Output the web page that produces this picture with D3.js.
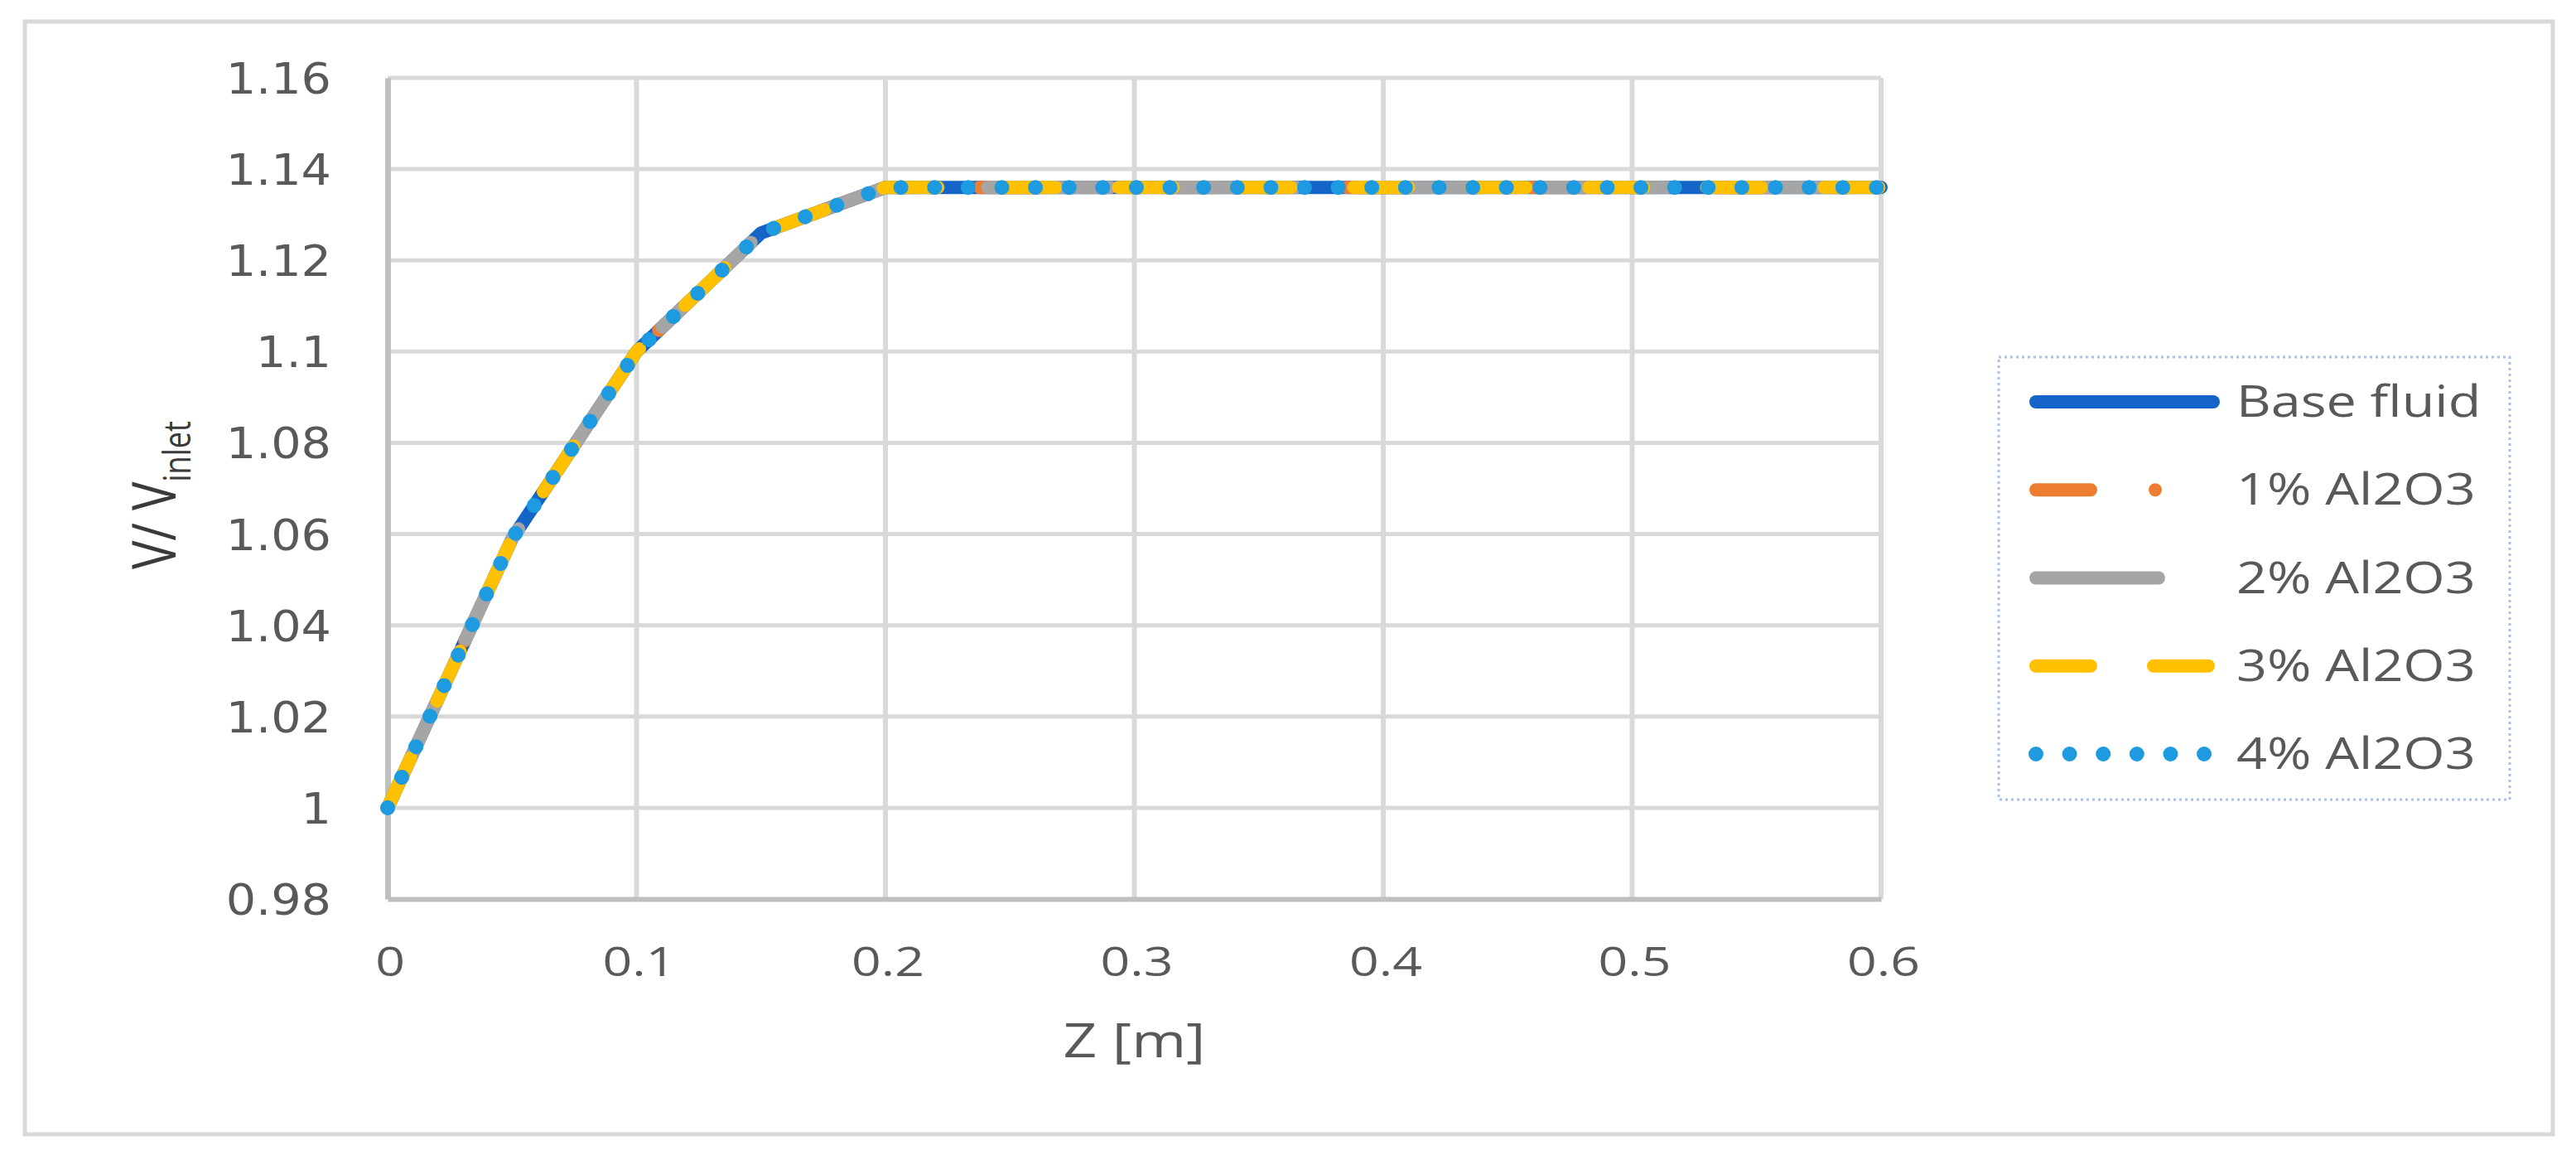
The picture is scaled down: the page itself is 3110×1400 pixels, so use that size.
<!DOCTYPE html>
<html>
<head>
<meta charset="utf-8">
<script src="https://cdn.jsdelivr.net/npm/d3@7"></script>
<style>
  html, body { margin: 0; padding: 0; background: #ffffff; }
  svg { display: block; }
</style>
</head>
<body>
<script>
// ---------------- data ----------------
const zValues   = [0, 0.05, 0.1, 0.15, 0.2, 0.3, 0.4, 0.5, 0.6];
const baseFluid = [1.0, 1.059, 1.100, 1.126, 1.136, 1.136, 1.136, 1.136, 1.136];
const al2o3_1   = [1.0, 1.059, 1.100, 1.126, 1.136, 1.136, 1.136, 1.136, 1.136];
const al2o3_2   = [1.0, 1.059, 1.100, 1.126, 1.136, 1.136, 1.136, 1.136, 1.136];
const al2o3_3   = [1.0, 1.059, 1.100, 1.126, 1.136, 1.136, 1.136, 1.136, 1.136];
const al2o3_4   = [1.0, 1.059, 1.100, 1.126, 1.136, 1.136, 1.136, 1.136, 1.136];
const seriesNames = ["Base fluid", "1% Al2O3", "2% Al2O3", "3% Al2O3", "4% Al2O3"];
const xTicks = [0, 0.1, 0.2, 0.3, 0.4, 0.5, 0.6];
const xTickLabels = ["0", "0.1", "0.2", "0.3", "0.4", "0.5", "0.6"];
const yTicks = [0.98, 1.0, 1.02, 1.04, 1.06, 1.08, 1.1, 1.12, 1.14, 1.16];
const yTickLabels = ["0.98", "1", "1.02", "1.04", "1.06", "1.08", "1.1", "1.12", "1.14", "1.16"];
const xTitle = "Z [m]";

// ---------------- styles ----------------
const W = 3110, H = 1400;
const styles = [
  { color: "#1565c8", dash: null, w: 16 },
  { color: "#ed7d31", dash: "66,78,0.01,78", w: 16 },
  { color: "#a5a5a5", dash: "148,76", w: 16 },
  { color: "#ffc000", dash: "66,76", w: 16 },
  { color: "#1e9be0", dash: "0.01,40.6", w: 18 }
];
const allSeries = [baseFluid, al2o3_1, al2o3_2, al2o3_3, al2o3_4];
const textColor = "#595959";
const gridColor = "#d9d9d9";
const axisColor = "#bfbfbf";

const svg = d3.select("body").append("svg")
  .attr("width", W).attr("height", H)
  .attr("viewBox", `0 0 ${W} ${H}`);

// outer frame
svg.append("rect")
  .attr("x", 30).attr("y", 26).attr("width", 3052).attr("height", 1343)
  .attr("fill", "#ffffff").attr("stroke", gridColor).attr("stroke-width", 5);

const x = d3.scaleLinear().domain([0, 0.6]).range([468, 2271]);
const y = d3.scaleLinear().domain([0.98, 1.16]).range([1085, 94]);

// gridlines
const grid = svg.append("g");
grid.selectAll("line.h").data(yTicks.filter(v => v > 0.981)).join("line")
  .attr("x1", x(0)).attr("x2", x(0.6))
  .attr("y1", d => y(d)).attr("y2", d => y(d))
  .attr("stroke", gridColor).attr("stroke-width", 5);
grid.selectAll("line.v").data(xTicks.filter(v => v > 0.001)).join("line")
  .attr("x1", d => x(d)).attr("x2", d => x(d))
  .attr("y1", y(1.16)).attr("y2", y(0.98))
  .attr("stroke", gridColor).attr("stroke-width", 6);

// axes lines (via d3 axes, no ticks)
const xAxis = svg.append("g").attr("transform", `translate(0,${y(0.98)})`)
  .call(d3.axisBottom(x).tickValues([]).tickSizeOuter(0));
xAxis.select(".domain").attr("stroke", axisColor).attr("stroke-width", 6);
const yAxis = svg.append("g").attr("transform", `translate(${x(0)},0)`)
  .call(d3.axisLeft(y).tickValues([]).tickSizeOuter(0));
yAxis.select(".domain").attr("stroke", axisColor).attr("stroke-width", 7);

// tick labels
svg.append("g").selectAll("g").data(yTicks).join("g")
  .attr("transform", d => `translate(400,${y(d)}) scale(1.1,1)`)
  .append("text")
  .attr("text-anchor", "end").attr("y", 19)
  .attr("font-family", "DejaVu Sans").attr("font-size", 52)
  .attr("fill", textColor)
  .text((d, i) => yTickLabels[i]);

svg.append("g").selectAll("g").data(xTicks).join("g")
  .attr("transform", d => `translate(${x(d) + 3},1178) scale(1.25,1)`)
  .append("text")
  .attr("text-anchor", "middle")
  .attr("font-family", "Open Sans").attr("font-size", 50)
  .attr("fill", textColor)
  .text((d, i) => xTickLabels[i]);

// axis titles
svg.append("g").attr("transform", `translate(${(x(0) + x(0.6)) / 2},1276) scale(1.25,1)`)
  .append("text").attr("text-anchor", "middle")
  .attr("font-family", "Open Sans").attr("font-size", 57)
  .attr("fill", textColor).text(xTitle);

const yt = svg.append("g").attr("transform", `translate(212,687) scale(1.25,1) rotate(-90)`)
  .append("text").attr("text-anchor", "start")
  .attr("font-family", "Open Sans").attr("font-size", 58)
  .attr("fill", "#3a3a3a");
yt.append("tspan").text("V/ V");
yt.append("tspan").attr("dy", 14).attr("font-size", 36).text("inlet");

// series lines
const line = d3.line().x((d, i) => x(zValues[i])).y(d => y(d));
const lines = svg.append("g");
allSeries.forEach((s, k) => {
  lines.append("path")
    .datum(s)
    .attr("d", line)
    .attr("fill", "none")
    .attr("stroke", styles[k].color)
    .attr("stroke-width", styles[k].w)
    .attr("stroke-linecap", "round")
    .attr("stroke-linejoin", "round")
    .attr("stroke-dasharray", styles[k].dash);
});

// legend
const lg = svg.append("g");
lg.append("rect")
  .attr("x", 2413).attr("y", 431).attr("width", 617).attr("height", 534)
  .attr("fill", "#ffffff").attr("stroke", "#aac0e8")
  .attr("stroke-width", 3).attr("stroke-dasharray", "3,4");
const rowY = d3.scalePoint().domain(seriesNames).range([485, 910]);
seriesNames.forEach((name, k) => {
  const yy = rowY(name);
  lg.append("line")
    .attr("x1", 2458).attr("x2", 2672)
    .attr("y1", yy).attr("y2", yy)
    .attr("stroke", styles[k].color)
    .attr("stroke-width", k === 4 ? 18 : 16)
    .attr("stroke-linecap", "round")
    .attr("stroke-dasharray", k === 2 ? "148,200" : styles[k].dash);
  lg.append("g").attr("transform", `translate(2700,${yy + 18}) scale(1.22,1)`)
    .append("text")
    .attr("font-family", "Open Sans").attr("font-size", 53)
    .attr("fill", textColor).text(name);
});
</script>
</body>
</html>
